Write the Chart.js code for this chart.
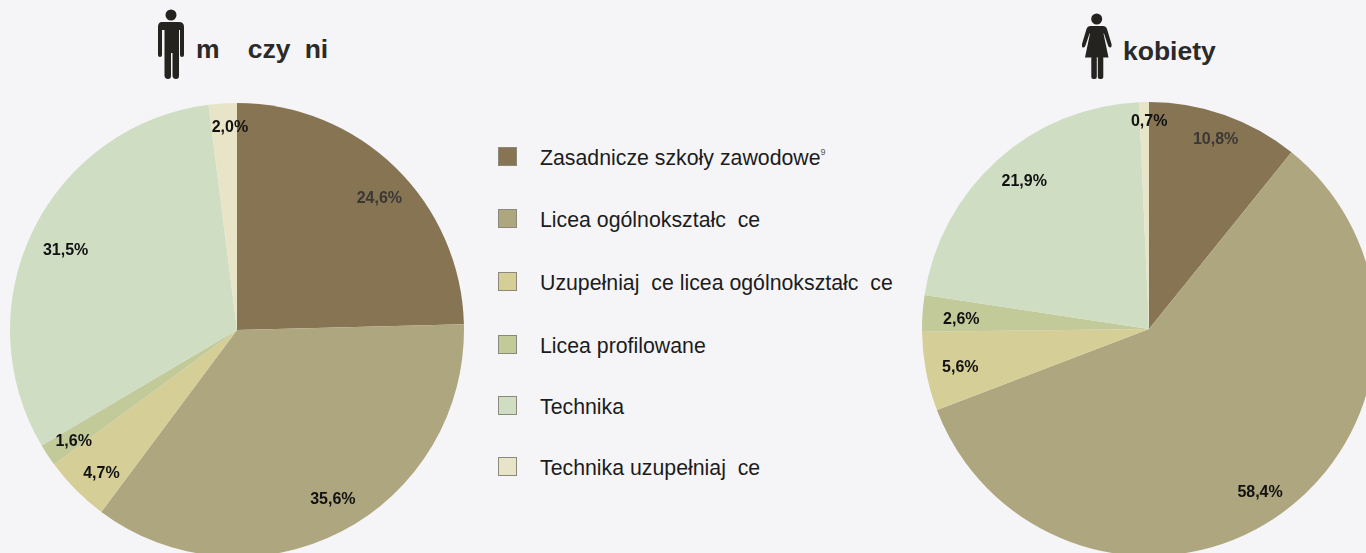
<!DOCTYPE html>
<html lang="pl">
<head>
<meta charset="utf-8">
<title>Wykształcenie</title>
<script src="https://cdn.jsdelivr.net/npm/chart.js@4"></script>
<style>
  html, body { margin: 0; height: 100%; background: #f5f5f8; overflow: hidden; }
  body { position: relative; width: 1366px; height: 553px; font-family: "Liberation Sans", Arial, sans-serif; }
  .pie { position: absolute; width: 462px; height: 462px; }
  #pieMen { left: 6px; top: 99px; }
  #pieWomen { left: 918px; top: 98px; }
  .title { position: absolute; font-size: 26.5px; font-weight: bold; color: #2b2a29; line-height: 28px; white-space: pre; }
  .icon { position: absolute; fill: #24231f; }
  .legend { position: absolute; font-size: 21.3px; color: #1c1c1c; line-height: 24px; white-space: pre; }
  .swatch { position: absolute; left: 498px; width: 19px; height: 19px; box-sizing: border-box; border: 1px solid #8a897c; }
  sup { font-size: 9px; line-height: 0; vertical-align: 10px; color: #555; }
</style>
</head>
<body>
<svg class="icon" style="left:156px;top:9px" width="30" height="71" viewBox="0 0 30 71">
  <circle cx="15" cy="6" r="5.5"/>
  <path d="M6 13h17q5 0 5 5v28q0 2-2 2t-2-2V21h-1v46q0 3-3 3t-3.500-3V44h-1.500v23q0 3-3 3t-3.500-3V21H6v25q0 2-2 2t-2-2V18q0-5 4-5z"/>
</svg>
<div class="title" style="left:196px;top:35px;word-spacing:-0.3px">m    czy  ni</div>
<svg class="icon" style="left:1082px;top:13px" width="30" height="67" viewBox="0 0 30 67">
  <circle cx="14.700" cy="6" r="5.500"/>
  <path d="M9 13h12q3 0 4 3l4.500 15q.5 3-1 3.500t-2.500-2l-4-12h-.5l5 24H3l5-24h-.5l-4 12q-1 2.500-2.500 2t-1-3.500l4.500-15q1-3 4-3z"/>
  <rect x="9.300" y="43" width="5.500" height="23" rx="2"/>
  <rect x="15.800" y="43" width="5.500" height="23" rx="2"/>
</svg>
<div class="title" style="left:1123px;top:37px">kobiety</div>

<canvas class="pie" id="pieMen" width="462" height="462"></canvas>
<canvas class="pie" id="pieWomen" width="462" height="462"></canvas>
<div id="legend"></div>

<script>
const categories = [
  "Zasadnicze szkoły zawodowe",
  "Licea ogólnokształc  ce",
  "Uzupełniaj  ce licea ogólnokształc  ce",
  "Licea profilowane",
  "Technika",
  "Technika uzupełniaj  ce",
];
const men = [24.6, 35.6, 4.7, 1.6, 31.5, 2.0];
const women = [10.8, 58.4, 5.6, 2.6, 21.9, 0.7];
const colors = ["#877453", "#aea67e", "#d6ce97", "#c3ca9a", "#cfddc2", "#e8e4c8"];

// where each percentage sits: share of the radius, and degrees off the slice middle
const menLabelRadius = [0.855, 0.856, 0.868, 0.87, 0.833, 0.895];
const menLabelNudge = [2.9, -2.2, -1.7, -0.7, -1.1, 1.6];
const womenLabelRadius = [0.89, 0.866, 0.848, 0.828, 0.853, 0.916];
const womenLabelNudge = [-0.2, 1.6, -0.6, -0.9, 1.8, 1.3];
const legendTops = [147, 209, 272, 335, 396, 457];

const percentLabels = {
  id: "percentLabels",
  afterDatasetsDraw(chart, args, opts) {
    const { ctx } = chart;
    const values = chart.data.datasets[0].data;
    ctx.save();
    ctx.font = 'bold 16px "Liberation Sans", Arial, sans-serif';
    ctx.textAlign = "center";
    ctx.textBaseline = "middle";
    chart.getDatasetMeta(0).data.forEach((arc, i) => {
      const mid = (arc.startAngle + arc.endAngle) / 2 + (opts.nudge[i] * Math.PI) / 180;
      const r = arc.outerRadius * opts.radius[i];
      ctx.fillStyle = i === 0 ? "#3a3835" : "#111111";
      ctx.fillText(values[i].toFixed(1).replace(".", ",") + "%", arc.x + Math.cos(mid) * r, arc.y + Math.sin(mid) * r + 1);
    });
    ctx.restore();
  },
};

function drawPie(id, values, labelRadius, labelNudge) {
  new Chart(document.getElementById(id), {
    type: "pie",
    data: {
      labels: categories,
      datasets: [{ data: values, backgroundColor: colors, borderWidth: 0 }],
    },
    options: {
      responsive: false,
      animation: false,
      layout: { padding: 4 },
      plugins: {
        legend: { display: false },
        tooltip: { enabled: false },
        percentLabels: { radius: labelRadius, nudge: labelNudge },
      },
    },
    plugins: [percentLabels],
  });
}

drawPie("pieMen", men, menLabelRadius, menLabelNudge);
drawPie("pieWomen", women, womenLabelRadius, womenLabelNudge);

const legend = document.getElementById("legend");
categories.forEach((name, i) => {
  const swatch = document.createElement("div");
  swatch.className = "swatch";
  swatch.style.top = legendTops[i] + "px";
  swatch.style.background = colors[i];
  legend.appendChild(swatch);

  const text = document.createElement("div");
  text.className = "legend";
  text.style.left = "540px";
  text.style.top = legendTops[i] - 1 + "px";
  text.textContent = name;
  if (i === 0) text.innerHTML += "<sup>9</sup>";
  legend.appendChild(text);
});
</script>
</body>
</html>
